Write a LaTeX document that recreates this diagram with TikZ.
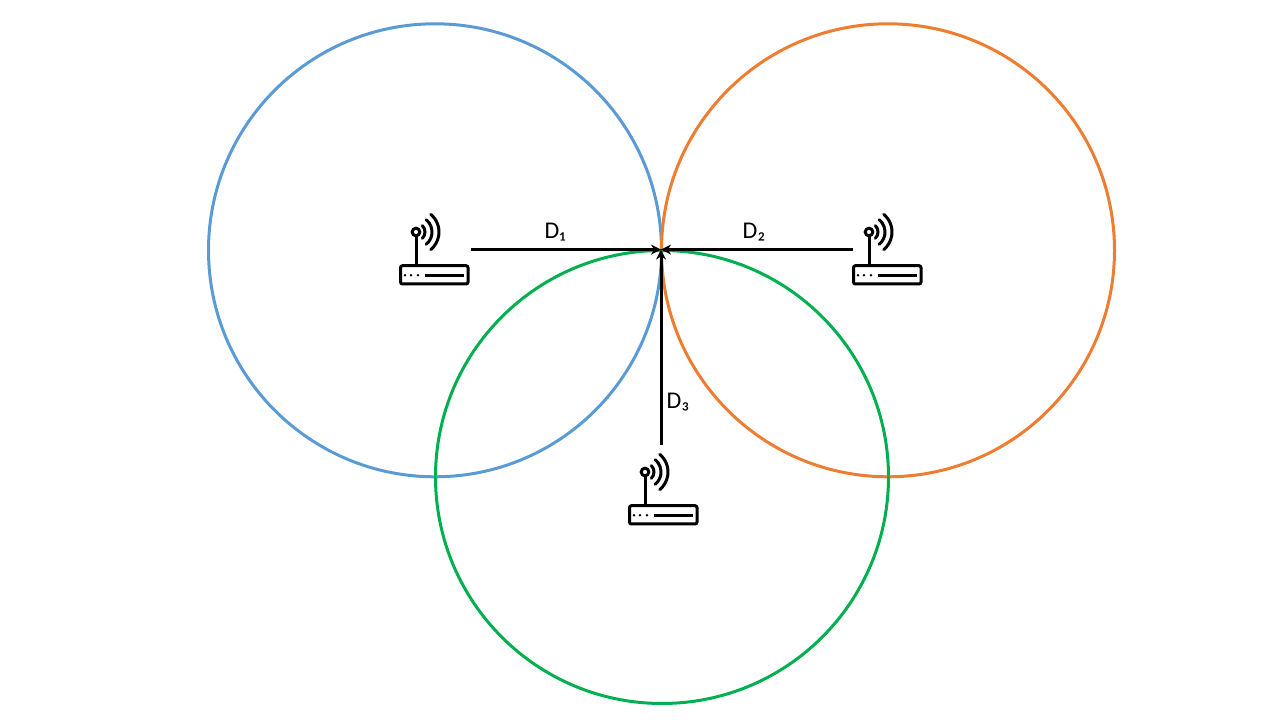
\documentclass[tikz,border=0pt]{standalone}
\usepackage{fontspec}
\setmainfont{Carlito}
\usetikzlibrary{arrows.meta}
\definecolor{cblue}{HTML}{5B9BD5}
\definecolor{corange}{HTML}{ED7D31}
\definecolor{cgreen}{HTML}{00B050}
\tikzset{
  x=1pt,y=1pt,
  ring/.style={line width=3pt,draw=#1},
  link/.style={line width=3pt,draw=black,-{Stealth[length=10pt,width=10pt]}},
  dlabel/.style={inner sep=0pt,font=\fontsize{24}{28}\selectfont},
  rbox/.style={rectangle,minimum width=70.5pt,minimum height=72pt,inner sep=0pt,outer sep=0pt},
  rline/.style={line width=3pt,draw=black},
}
% #1 name, #2 antenna centre x, #3 antenna centre y
\newcommand{\routericon}[3]{%
  \begin{scope}[shift={(#2,#3)}]
    \node[rbox] (#1) at (18.75,-18) {};
    \draw[rline] (0,0) circle[radius=3.8pt];
    \draw[rline] (0,-3.8) -- (0,-33.7);
    \draw[rline,line cap=round] (45:9) arc[start angle=45,end angle=-45,radius=9pt];
    \draw[rline,line cap=round] (50:16) arc[start angle=50,end angle=-50,radius=16pt];
    \draw[rline,line cap=round] (50:23) arc[start angle=50,end angle=-50,radius=23pt];
    \draw[rline,rounded corners=2pt] (-15.5,-33.7) rectangle (52,-52);
    \fill (-11,-43.3) circle[radius=1.4pt] (-5,-43.3) circle[radius=1.4pt] (2,-43.3) circle[radius=1.4pt];
    \draw[rline] (9,-43.3) -- (48,-43.3);
  \end{scope}}
\begin{document}
\begin{tikzpicture}
\useasboundingbox (0,0) rectangle (1280,720);
\fill[white] (0,0) rectangle (1280,720);
\node[circle,minimum size=453pt,inner sep=0pt,ring=cblue] (c1) at (435,469.7) {};
\node[circle,minimum size=453pt,inner sep=0pt,ring=corange] (c2) at (888,469.7) {};
\node[circle,minimum size=453pt,inner sep=0pt,ring=cgreen] (c3) at (662,243) {};
\routericon{r1}{416}{488}
\routericon{r2}{869}{488}
\routericon{r3}{645}{248}
\coordinate (hub) at (661,470.4);
\draw[link] ([xshift=1pt]r1.east |- hub) -- (hub);
\draw[link] (r2.west |- hub) -- (hub);
\draw[link] ([yshift=9pt]r3.north -| hub) -- (hub);
\node[dlabel] (d1) at (555,487.5) {D₁};
\node[dlabel] (d2) at (754,487.5) {D₂};
\node[dlabel] (d3) at (678,317.5) {D₃};
\end{tikzpicture}
\end{document}
